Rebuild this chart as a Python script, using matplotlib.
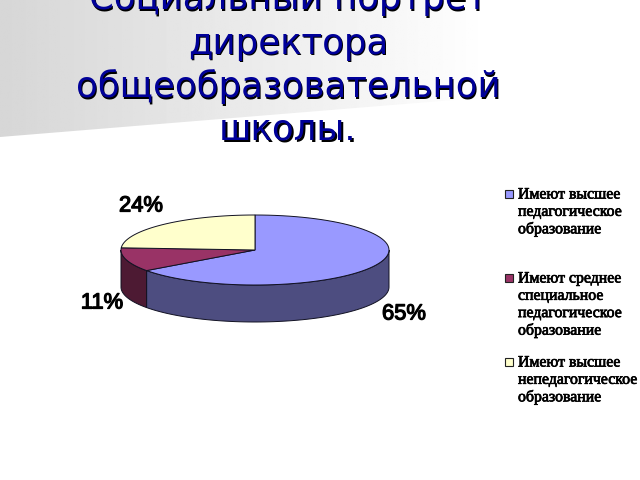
import matplotlib
matplotlib.use("Agg")
import matplotlib.pyplot as plt
import matplotlib.patheffects as pe
from matplotlib.patches import Polygon, Rectangle
import numpy as np

title_lines = ["Социальный портрет", "директора", "общеобразовательной", "школы."]
values = [65, 11, 24]
labels = ["65%", "11%", "24%"]
legend_lines = [
    ["Имеют высшее", "педагогическое", "образование"],
    ["Имеют среднее", "специальное", "педагогическое", "образование"],
    ["Имеют высшее", "непедагогическое", "образование"],
]
top_colors = ["#9999FF", "#993366", "#FFFFCC"]
side_colors = ["#4D4D80", "#4D1A33", "#80805F"]

fig = plt.figure(figsize=(6.4, 4.8), dpi=100)
ax = fig.add_axes([0, 0, 1, 1])
ax.set_xlim(0, 640)
ax.set_ylim(480, 0)
ax.axis("off")

# fond gris en degrade, coupe par une ligne oblique
grad = np.linspace(0.84, 1.0, 256).reshape(1, -1)
img = ax.imshow(grad, extent=[0, 490, 140, 0], cmap="gray", vmin=0, vmax=1, aspect="auto", zorder=0)
clip = Polygon([[0, 0], [490, 0], [490, 97], [0, 137]], transform=ax.transData)
img.set_clip_path(clip)
ax.set_xlim(0, 640)
ax.set_ylim(480, 0)

# titre avec ombre
title_y = [9, 54, 97, 140]
for line, y in zip(title_lines, title_y):
    ax.text(288 + 1.5, y + 1.5, line, fontsize=25.6, family="DejaVu Sans", color="black", ha="center", va="baseline", zorder=3)
    ax.text(288, y, line, fontsize=25.6, family="DejaVu Sans", color="#000099", ha="center", va="baseline", zorder=4)

# camembert 3D
cx, cy, rx, ry, depth = 255, 250, 134, 35, 37


def rim(t1, t2, n=80):
    t = np.radians(np.linspace(t1, t2, n))
    return np.column_stack([cx + rx * np.sin(t), cy - ry * np.cos(t)])


angles = np.concatenate([[0], np.cumsum(values) * 360 / sum(values)])

for i in range(len(values)):
    a1 = max(angles[i], 90)
    a2 = min(angles[i + 1], 270)
    if a2 > a1:
        haut = rim(a1, a2)
        bas = haut[::-1] + [0, depth]
        ax.add_patch(Polygon(np.vstack([haut, bas]), closed=True, facecolor=side_colors[i],
                             edgecolor="#111122", linewidth=0.7, zorder=5))

for i in range(len(values)):
    pts = np.vstack([[cx, cy], rim(angles[i], angles[i + 1])])
    ax.add_patch(Polygon(pts, closed=True, facecolor=top_colors[i],
                         edgecolor="#111122", linewidth=0.7, zorder=6))

# etiquettes
label_pos = [(404, 314), (102, 303), (141, 206)]
for lab, (x, y) in zip(labels, label_pos):
    ax.text(x, y, lab, fontsize=15.8, family="Liberation Sans", color="black", ha="center", va="center",
            path_effects=[pe.withStroke(linewidth=0.9, foreground="black")], zorder=7)

# legende
legend_y = [194, 278, 362]
for lines, y0, color in zip(legend_lines, legend_y, top_colors):
    ax.add_patch(Rectangle((505, y0 - 4), 8, 8, facecolor=color, edgecolor="#222222", linewidth=0.8, zorder=7))
    for k, line in enumerate(lines):
        ax.text(518, y0 + 0.5 + k * 17.3, line, fontsize=11.4, family="Liberation Serif", color="black", ha="left", va="center",
                path_effects=[pe.withStroke(linewidth=0.5, foreground="black")], zorder=7)

fig.savefig("out.png", dpi=100)
